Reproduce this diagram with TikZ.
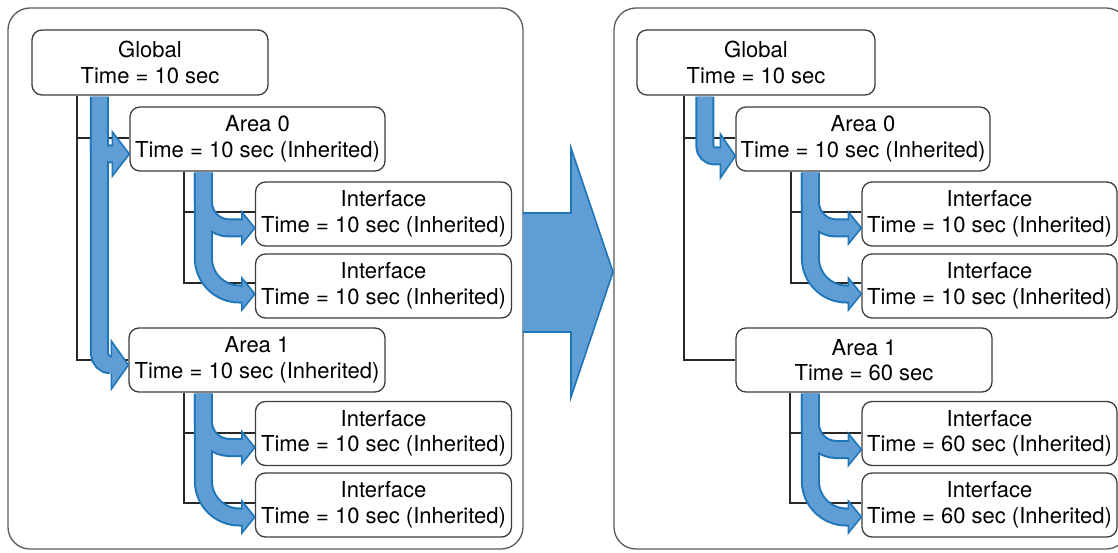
\documentclass[tikz,border=0pt]{standalone}
\usepackage{fontspec}
\setmainfont{TeX Gyre Heros}
\usetikzlibrary{calc}
\definecolor{blight}{RGB}{95,157,212}
\definecolor{bdark}{RGB}{30,118,184}
\definecolor{boxline}{RGB}{60,60,60}
\definecolor{treeline}{RGB}{40,40,40}
\definecolor{panelline}{RGB}{90,90,90}
\tikzset{
  box/.style={draw=boxline, line width=1.3pt, fill=white, rounded corners=10pt,
    inner sep=0pt, align=center, minimum height=64pt,
    font=\fontsize{22}{25.5}\selectfont},
  panel/.style={draw=panelline, line width=1.3pt, rounded corners=22pt},
  tree/.style={draw=treeline, line width=2pt},
  bandout/.style={draw=bdark, line width=19pt},
  bandin/.style={draw=blight, line width=15pt},
  headst/.style={fill=blight, draw=bdark, line width=1.6pt, line join=miter},
}
% #1 pass, #2 start, #3 tip, #4 corner radius, #5 head half width, #6 head length
\newcommand\fa[6]{%
  \ifcase#1\or
    \draw[bandout, rounded corners=#4] (#2) |- ($(#3)+(-#6,0)$);
  \or
    \filldraw[headst] ($(#3)+(-#6,#5)$) -- (#3) -- ($(#3)+(-#6,-#5)$) -- cycle;
  \or
    \draw[bandin, rounded corners=#4] (#2) |- ($(#3)+(-#6+1.5,0)$);
  \fi}
\newcommand\allarrows[1]{%
  \fa{#1}{sML}{tA1L}{12pt}{24}{17}%
  \fa{#1}{sMLb}{tA0L}{3pt}{22}{17}%
  \fa{#1}{sA0L}{tI1L}{26pt}{16}{13}%
  \fa{#1}{sA0L}{tI2L}{36pt}{16}{13}%
  \fa{#1}{sA1L}{tI3L}{26pt}{16}{13}%
  \fa{#1}{sA1L}{tI4L}{36pt}{16}{13}%
  \fa{#1}{sMR}{tA0R}{10pt}{22}{15}%
  \fa{#1}{sA0R}{tI1R}{26pt}{16}{13}%
  \fa{#1}{sA0R}{tI2R}{36pt}{16}{13}%
  \fa{#1}{sA1R}{tI3R}{26pt}{16}{13}%
  \fa{#1}{sA1R}{tI4R}{36pt}{16}{13}%
}
\begin{document}
\begin{tikzpicture}[x=1pt, y=-1pt]
\useasboundingbox (0,0) rectangle (1118,553);
\clip (0,0) rectangle (1118,553);

% panels
\draw[panel] (8,8) rectangle (523,549);
\draw[panel] (614,8) rectangle (1128,549);

% middle arrow
\fill[blight] (523,213) -- (571,213) -- (571,148) -- (613,272) -- (571,397) -- (571,332) -- (523,332) -- cycle;
\draw[bdark, line width=1.6pt, line join=miter] (523,213) -- (571,213) -- (571,148) -- (613,272) -- (571,397) -- (571,332) -- (523,332);

% left nodes
\node[box, minimum width=236pt, minimum height=65pt] (gL) at (150,62.5) {Global\\Time = 10 sec};
\node[box, minimum width=255pt] (a0L) at (257.5,139) {Area 0\\Time = 10 sec (Inherited)};
\node[box, minimum width=256pt] (i1L) at (383.5,214) {Interface\\Time = 10 sec (Inherited)};
\node[box, minimum width=256pt] (i2L) at (383.5,286) {Interface\\Time = 10 sec (Inherited)};
\node[box, minimum width=256pt] (a1L) at (257,360) {Area 1\\Time = 10 sec (Inherited)};
\node[box, minimum width=256pt] (i3L) at (383.5,433.5) {Interface\\Time = 10 sec (Inherited)};
\node[box, minimum width=256pt] (i4L) at (383.5,505) {Interface\\Time = 10 sec (Inherited)};

% right nodes
\node[box, minimum width=238pt, minimum height=65pt] (gR) at (756,62.5) {Global\\Time = 10 sec};
\node[box, minimum width=254pt] (a0R) at (863,139) {Area 0\\Time = 10 sec (Inherited)};
\node[box, minimum width=255pt] (i1R) at (989.5,214) {Interface\\Time = 10 sec (Inherited)};
\node[box, minimum width=255pt] (i2R) at (989.5,286) {Interface\\Time = 10 sec (Inherited)};
\node[box, minimum width=256pt] (a1R) at (864,360) {Area 1\\Time = 60 sec};
\node[box, minimum width=255pt] (i3R) at (989.5,433.5) {Interface\\Time = 60 sec (Inherited)};
\node[box, minimum width=255pt] (i4R) at (989.5,505) {Interface\\Time = 60 sec (Inherited)};

% tree lines
\draw[tree] ($(gL.south west)+(46,0)$) |- ($(a0L.west)+(0,-1)$);
\draw[tree] ($(gL.south west)+(46,0)$) |- (a1L.west);
\draw[tree] ($(a0L.south west)+(55,0)$) |- ($(i1L.west)+(0,-2)$);
\draw[tree] ($(a0L.south west)+(55,0)$) |- ($(i2L.west)+(0,-3)$);
\draw[tree] ($(a1L.south west)+(56,0)$) |- ($(i3L.west)+(0,-1)$);
\draw[tree] ($(a1L.south west)+(56,0)$) |- ($(i4L.west)+(0,-2)$);
\draw[tree] ($(gR.south west)+(48,0)$) |- ($(a0R.west)+(0,-1)$);
\draw[tree] ($(gR.south west)+(48,0)$) |- (a1R.west);
\draw[tree] ($(a0R.south west)+(56,0)$) |- ($(i1R.west)+(0,-2)$);
\draw[tree] ($(a0R.south west)+(56,0)$) |- ($(i2R.west)+(0,-3)$);
\draw[tree] ($(a1R.south west)+(55,0)$) |- ($(i3R.west)+(0,-1)$);
\draw[tree] ($(a1R.south west)+(55,0)$) |- ($(i4R.west)+(0,-2)$);

% arrow coordinates
\coordinate (sML) at ($(gL.south west)+(68,1)$);
\coordinate (sMLb) at ($(gL.south west)+(68,45)$);
\coordinate (tA0L) at ($(a0L.west)+(0,15)$);
\coordinate (tA1L) at ($(a1L.west)+(0,5)$);
\coordinate (sA0L) at ($(a0L.south west)+(74,1)$);
\coordinate (sA1L) at ($(a1L.south west)+(75,1)$);
\coordinate (tI1L) at ($(i1L.west)+(0,14)$);
\coordinate (tI2L) at ($(i2L.west)+(0,8)$);
\coordinate (tI3L) at ($(i3L.west)+(0,14)$);
\coordinate (tI4L) at ($(i4L.west)+(0,12)$);
\coordinate (sMR) at ($(gR.south west)+(68.5,1)$);
\coordinate (tA0R) at ($(a0R.west)+(0,17)$);
\coordinate (sA0R) at ($(a0R.south west)+(75,1)$);
\coordinate (sA1R) at ($(a1R.south west)+(75,1)$);
\coordinate (tI1R) at ($(i1R.west)+(0,14)$);
\coordinate (tI2R) at ($(i2R.west)+(0,8)$);
\coordinate (tI3R) at ($(i3R.west)+(0,16)$);
\coordinate (tI4R) at ($(i4R.west)+(0,12)$);

\allarrows{1}
\allarrows{2}
\allarrows{3}
\end{tikzpicture}
\end{document}
